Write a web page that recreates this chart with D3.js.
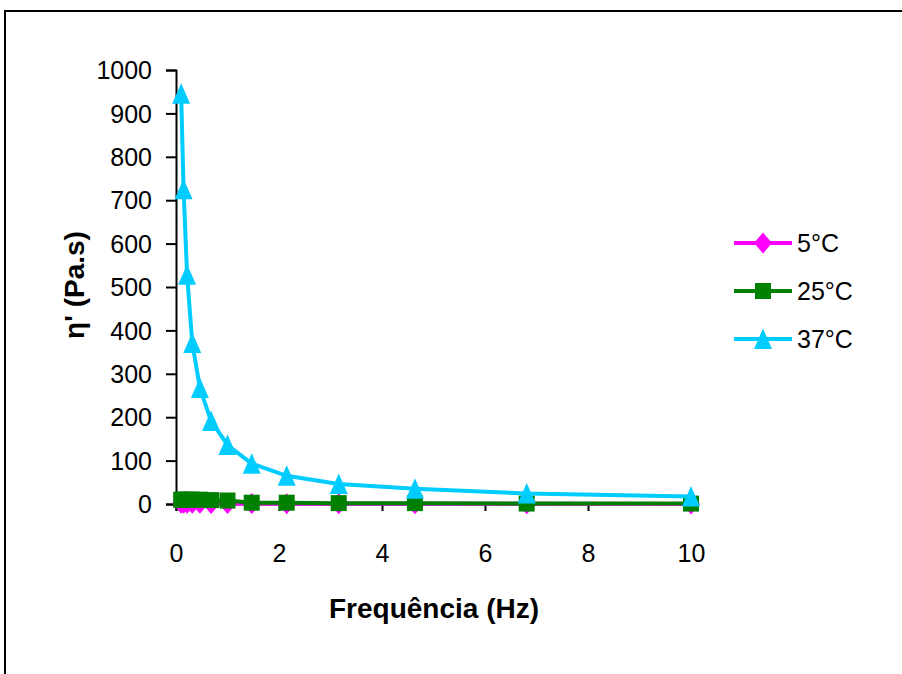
<!DOCTYPE html>
<html><head><meta charset="utf-8">
<script src="https://cdn.jsdelivr.net/npm/d3@7"></script>
<style>body{margin:0;background:#fff}svg{display:block}</style>
</head><body>
<svg id="c" width="902" height="674"></svg>
<script>
const freq = [0.1, 0.147, 0.215, 0.316, 0.464, 0.681, 1, 1.47, 2.15, 3.16, 4.64, 6.81, 10];
const v5 = [2, 2, 2, 1.5, 1.5, 1, 1, 1, 0.8, 0.6, 0.5, 0.3, 0.2];
const v25 = [10, 10, 10, 10, 10, 9, 8, 3, 3, 2, 2, 1, 1];
const v37 = [945, 725, 528, 371, 267, 191, 136, 93, 65, 46, 35, 24, 17];
const seriesNames = ["5°C", "25°C", "37°C"];
const seriesColors = ["#FF00FF", "#008000", "#00CCFF"];
const seriesShapes = ["diamond", "square", "triangle"];
const xTicks = [0, 2, 4, 6, 8, 10];
const yTicks = [0, 100, 200, 300, 400, 500, 600, 700, 800, 900, 1000];

const svg = d3.select("#c");
const font = "'Liberation Sans', Arial, sans-serif";
svg.append("rect").attr("x", 5).attr("y", 11).attr("width", 1000).attr("height", 1000)
  .attr("fill", "#fff").attr("stroke", "#000").attr("stroke-width", 2);

const x = d3.scaleLinear().domain([0, 10]).range([176, 691]);
const y = d3.scaleLinear().domain([0, 1000]).range([504, 70]);

// axes
const yAx = svg.append("g").attr("transform", "translate(176,0)")
  .call(d3.axisLeft(y).tickValues(yTicks).tickSize(10).tickPadding(14).tickFormat(d3.format("d")));
const xAx = svg.append("g").attr("transform", "translate(0,504)")
  .call(d3.axisBottom(x).tickValues(xTicks).tickSize(7).tickPadding(0).tickFormat(d3.format("d")));
[yAx, xAx].forEach(g => {
  g.attr("font-size", null).attr("font-family", null);
  g.select(".domain").attr("stroke", "#000").attr("stroke-width", 2);
  g.selectAll(".tick line").attr("stroke", "#000").attr("stroke-width", 2);
  g.selectAll("text").attr("font-family", font).attr("font-size", 25).attr("fill", "#000");
});
yAx.selectAll("text").attr("dy", "0.35em");
xAx.selectAll("text").attr("y", 58).attr("dy", null);

// custom marker shapes (bbox-centred)
const shapePath = {
  diamond: "M0,-10.5L9,0L0,10.5L-9,0Z",
  square: "M-8,-8H8V8H-8Z",
  triangle: "M0,-10.5L9,10L-9,10Z"
};
const allVals = [v5, v25, v37];
const line = d3.line().x(d => x(d[0])).y(d => y(d[1]));

allVals.forEach((vals, i) => {
  const pts = freq.map((f, j) => [f, vals[j]]);
  svg.append("path").attr("d", line(pts)).attr("fill", "none")
    .attr("stroke", seriesColors[i]).attr("stroke-width", 4);
  svg.append("g").selectAll("path").data(pts).join("path")
    .attr("transform", d => `translate(${x(d[0])},${y(d[1])})`)
    .attr("d", shapePath[seriesShapes[i]])
    .attr("fill", seriesColors[i]);
});

// titles
svg.append("text").attr("x", 434).attr("y", 618).attr("text-anchor", "middle")
  .attr("font-family", font).attr("font-weight", "bold").attr("font-size", 28).text("Frequência (Hz)");
svg.append("text").attr("transform", "translate(84,285) rotate(-90)").attr("text-anchor", "middle")
  .attr("font-family", font).attr("font-weight", "bold").attr("font-size", 28).text("η' (Pa.s)");

// legend
const lg = svg.append("g");
seriesNames.forEach((n, i) => {
  const yy = 243 + i * 48;
  lg.append("line").attr("x1", 734).attr("x2", 792).attr("y1", yy).attr("y2", yy)
    .attr("stroke", seriesColors[i]).attr("stroke-width", 4);
  lg.append("path").attr("transform", `translate(763,${yy})`)
    .attr("d", shapePath[seriesShapes[i]])
    .attr("fill", seriesColors[i]);
  lg.append("text").attr("x", 797).attr("y", yy).attr("dy", "0.35em")
    .attr("font-family", font).attr("font-size", 25).text(n);
});
</script>
</body></html>
